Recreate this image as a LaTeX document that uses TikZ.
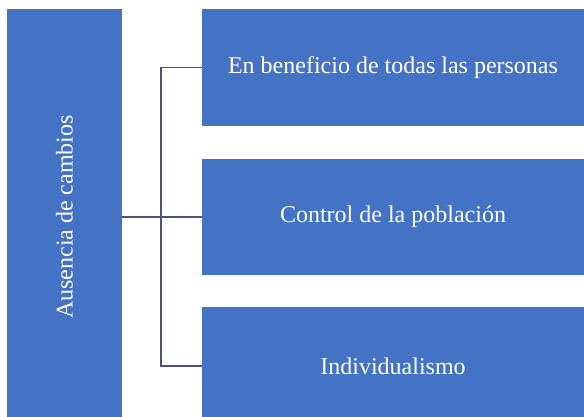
\documentclass[tikz,border=0pt]{standalone}
\usepackage{fontspec}
\setmainfont{Liberation Serif}
\definecolor{boxblue}{HTML}{4472C4}
\definecolor{linecol}{HTML}{4A5478}
\tikzset{
  bluebox/.style={fill=boxblue, draw=none, inner sep=0pt, text=white, font=\fontsize{24}{28}\selectfont},
  conn/.style={draw=linecol, line width=1.8pt}
}
\begin{document}
\begin{tikzpicture}[x=1pt,y=1pt]
\useasboundingbox (0,0) rectangle (584,417);
\fill[white] (0,0) rectangle (584,417);
\node[bluebox, minimum width=115pt, minimum height=408pt] (L) at (64.5,204) {};
\node[bluebox, rotate=90] (Lt) at (64.5,200) {Ausencia de cambios};
\node[bluebox, minimum width=382pt, minimum height=117pt] (A) at (393,349.5) {En beneficio de todas las personas};
\node[bluebox, minimum width=382pt, minimum height=116pt] (B) at (393,200) {Control de la población};
\node[bluebox, minimum width=382pt, minimum height=110pt] (C) at (393,55) {};
\node[bluebox] (Ct) at (393,51) {Individualismo};
\coordinate (hub) at (161,200);
\coordinate (cend) at (C.west |- 0,51);
\draw[conn] (L.east |- hub) -- (B.west);
\draw[conn] (A.west) -| (hub) |- (cend);
\end{tikzpicture}
\end{document}
